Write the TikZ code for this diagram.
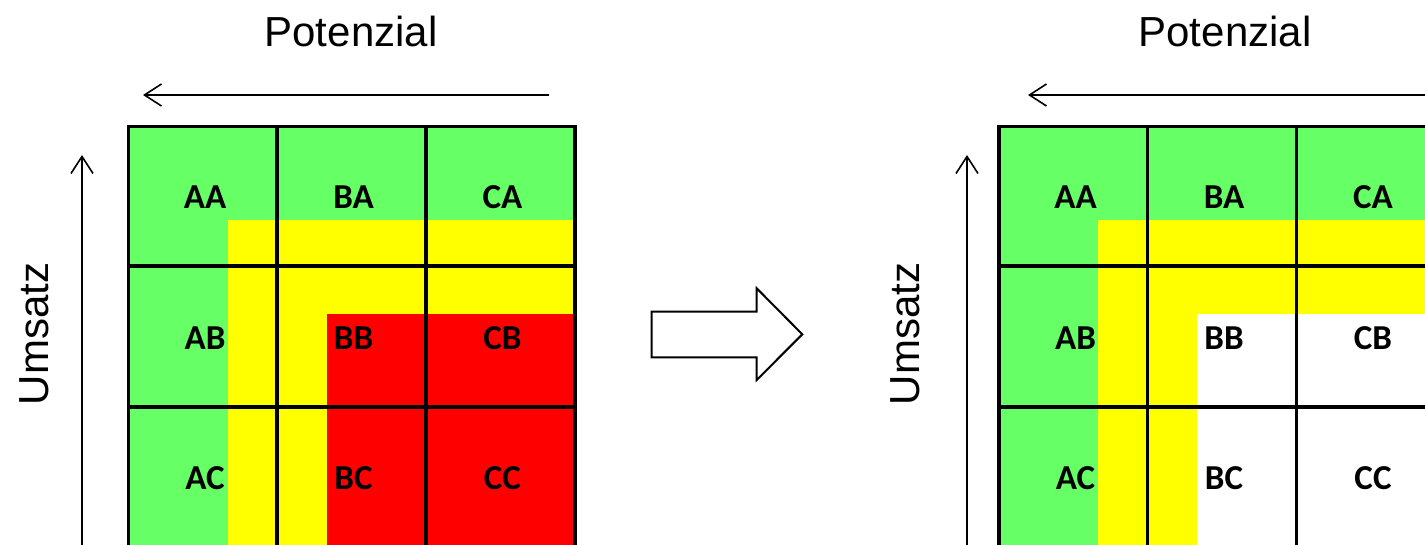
\documentclass[tikz,border=0pt]{standalone}
\usepackage{fontspec}
\setmainfont{Liberation Sans}
\newfontfamily\cellfont{Carlito}
\usetikzlibrary{arrows.meta}
\definecolor{mgreen}{HTML}{66FF66}
\definecolor{myellow}{HTML}{FFFF00}
\definecolor{mred}{HTML}{FF0000}
\tikzset{
  gridline/.style={line width=3.7pt, black},
  celltext/.style={font=\cellfont\bfseries\fontsize{35}{38}\selectfont, inner sep=0pt, anchor=center},
  axis/.style={line width=1.6pt, -{Straight Barb[length=17pt,width=22pt,line width=1.6pt]}},
  axislabel/.style={font=\fontsize{42}{48}\selectfont, inner sep=0pt, anchor=center},
  blockarrow/.style={line width=2pt, black, fill=white, line join=miter},
  abcgrid/.pic={
    \fill[mgreen] (0,0) rectangle (446.5,425);
    \fill[myellow] (99.2,93.5) rectangle (446.5,425);
    \fill[#1] (198.2,187.5) rectangle (446.5,425);
    \foreach \x in {0,148.5,297.5,446.5} \draw[gridline] (\x,-1.85) -- (\x,425);
    \foreach \y in {0,139.5,280.5} \draw[gridline] (0,\y) -- (446.5,\y);
    \node[celltext] (-AA) at (76.5,70.5) {AA};
    \node[celltext] (-BA) at (225,70.5) {BA};
    \node[celltext] (-CA) at (374,70.5) {CA};
    \node[celltext] (-AB) at (76.5,211.5) {AB};
    \node[celltext] (-BB) at (225,211.5) {BB};
    \node[celltext] (-CB) at (374,211.5) {CB};
    \node[celltext] (-AC) at (76.5,351.5) {AC};
    \node[celltext] (-BC) at (225,351.5) {BC};
    \node[celltext] (-CC) at (374,351.5) {CC};
  }
}
\begin{document}
\begin{tikzpicture}[x=1pt,y=-1pt]
\useasboundingbox (0,0) rectangle (1425,545);
\fill[white] (0,0) rectangle (1425,545);
\clip (0,0) rectangle (1425,545);

% left matrix
\pic (L) at (128.5,126.5) {abcgrid=mred};
\node[axislabel] (potL) at (351,31) {Potenzial};
\coordinate (potLs) at (549,95);
\coordinate (potLe) at (143,95);
\draw[axis] (potLs) -- (potLe);
\node[axislabel, rotate=90] (umsL) at (34,334) {Umsatz};
\coordinate (umsLs) at (82,560);
\coordinate (umsLe) at (82,155);
\draw[axis] (umsLs) -- (umsLe);

% block arrow
\draw[blockarrow] (651.7,311.7) -- (756.7,311.7) -- (756.7,288.3) -- (802.3,334.3)
  -- (756.7,380) -- (756.7,357.3) -- (651.7,357.3) -- cycle;

% right matrix
\pic (R) at (999,126.5) {abcgrid=white};
\node[axislabel] (potR) at (1225,31) {Potenzial};
\coordinate (potRs) at (1440,95);
\coordinate (potRe) at (1028,95);
\draw[axis] (potRs) -- (potRe);
\node[axislabel, rotate=90] (umsR) at (905,334) {Umsatz};
\coordinate (umsRs) at (967,560);
\coordinate (umsRe) at (967,155);
\draw[axis] (umsRs) -- (umsRe);
\end{tikzpicture}
\end{document}
